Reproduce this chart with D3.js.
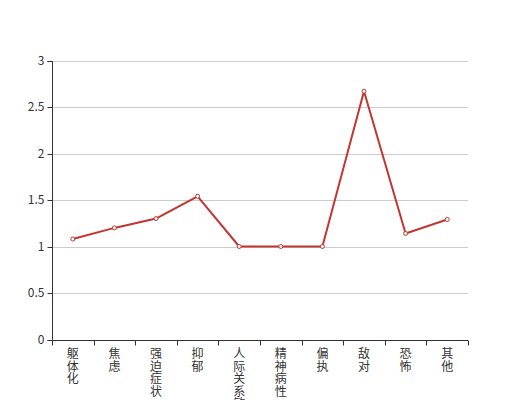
<!DOCTYPE html>
<html><head><meta charset="utf-8">
<script src="https://cdn.jsdelivr.net/npm/d3@7"></script>
<style>body{margin:0;background:#fff}svg{display:block}</style>
</head><body>
<svg id="c" width="520" height="400"></svg>
<script>
const categories = ["躯体化","焦虑","强迫症状","抑郁","人际关系敏感","精神病性","偏执","敌对","恐怖","其他"];
const values = [1.08, 1.2, 1.3, 1.54, 1, 1, 1, 2.67, 1.14, 1.29];
const yTicks = [0, 0.5, 1, 1.5, 2, 2.5, 3];

const svg = d3.select("#c");
const m = {left: 52, right: 468, top: 60.5, bottom: 339.5};
const font = "'Noto Sans CJK SC', 'Noto Sans', sans-serif";
const x = d3.scaleBand().domain(categories).range([m.left, m.right]);
const y = d3.scaleLinear().domain([0, 3]).range([m.bottom, m.top]);

// grid
svg.append("g").selectAll("line").data(yTicks.filter(d => d > 0)).join("line")
  .attr("x1", m.left).attr("x2", m.right)
  .attr("y1", d => Math.round(y(d)) + 0.5).attr("y2", d => Math.round(y(d)) + 0.5)
  .attr("stroke", "#ccc").attr("stroke-width", 1);

// y axis
const ya = svg.append("g").attr("transform", `translate(${m.left + 0.5},0)`)
  .call(d3.axisLeft(y).tickValues(yTicks).tickSize(5).tickPadding(3).tickFormat(d3.format("")));
ya.select(".domain").attr("stroke", "#333").attr("d", `M-5,${Math.round(m.bottom)+0.5}H0V${Math.round(m.top)+0.5}H-5`);
ya.selectAll(".tick line").attr("stroke", "#333");
ya.selectAll(".tick text").attr("fill", "#333").style("font-size", "12px").style("font-family", font);
ya.selectAll(".tick").attr("transform", d => `translate(0,${Math.round(y(d)) + 0.5})`);

// x axis
const xa = svg.append("g").attr("transform", `translate(0,${Math.round(m.bottom) + 0.5})`);
xa.append("line").attr("x1", m.left).attr("x2", m.right).attr("stroke", "#333");
const bounds = d3.range(categories.length + 1).map(i => m.left + i * x.step());
xa.selectAll("line.t").data(bounds).join("line").attr("class", "t")
  .attr("x1", d => Math.round(d) + 0.5).attr("x2", d => Math.round(d) + 0.5)
  .attr("y1", 0).attr("y2", 5).attr("stroke", "#333");
xa.selectAll("text").data(categories).join("text")
  .attr("x", d => x(d) + x.bandwidth() / 2)
  .attr("y", 7)
  .attr("fill", "#333").style("font-size", "12px").style("font-family", font)
  .style("writing-mode", "vertical-rl").style("text-orientation", "upright")
  .style("letter-spacing", "0.5px")
  .text(d => d);

// line
const pts = categories.map((c, i) => [x(c) + x.bandwidth() / 2, y(values[i])]);
svg.append("path").attr("d", d3.line()(pts))
  .attr("fill", "none").attr("stroke", "#c23531").attr("stroke-width", 2)
  .attr("stroke-linejoin", "bevel");
svg.append("g").selectAll("circle").data(pts).join("circle")
  .attr("cx", d => d[0]).attr("cy", d => d[1]).attr("r", 2)
  .attr("fill", "#fff").attr("stroke", "#c23531").attr("stroke-width", 1);
</script>
</body></html>
